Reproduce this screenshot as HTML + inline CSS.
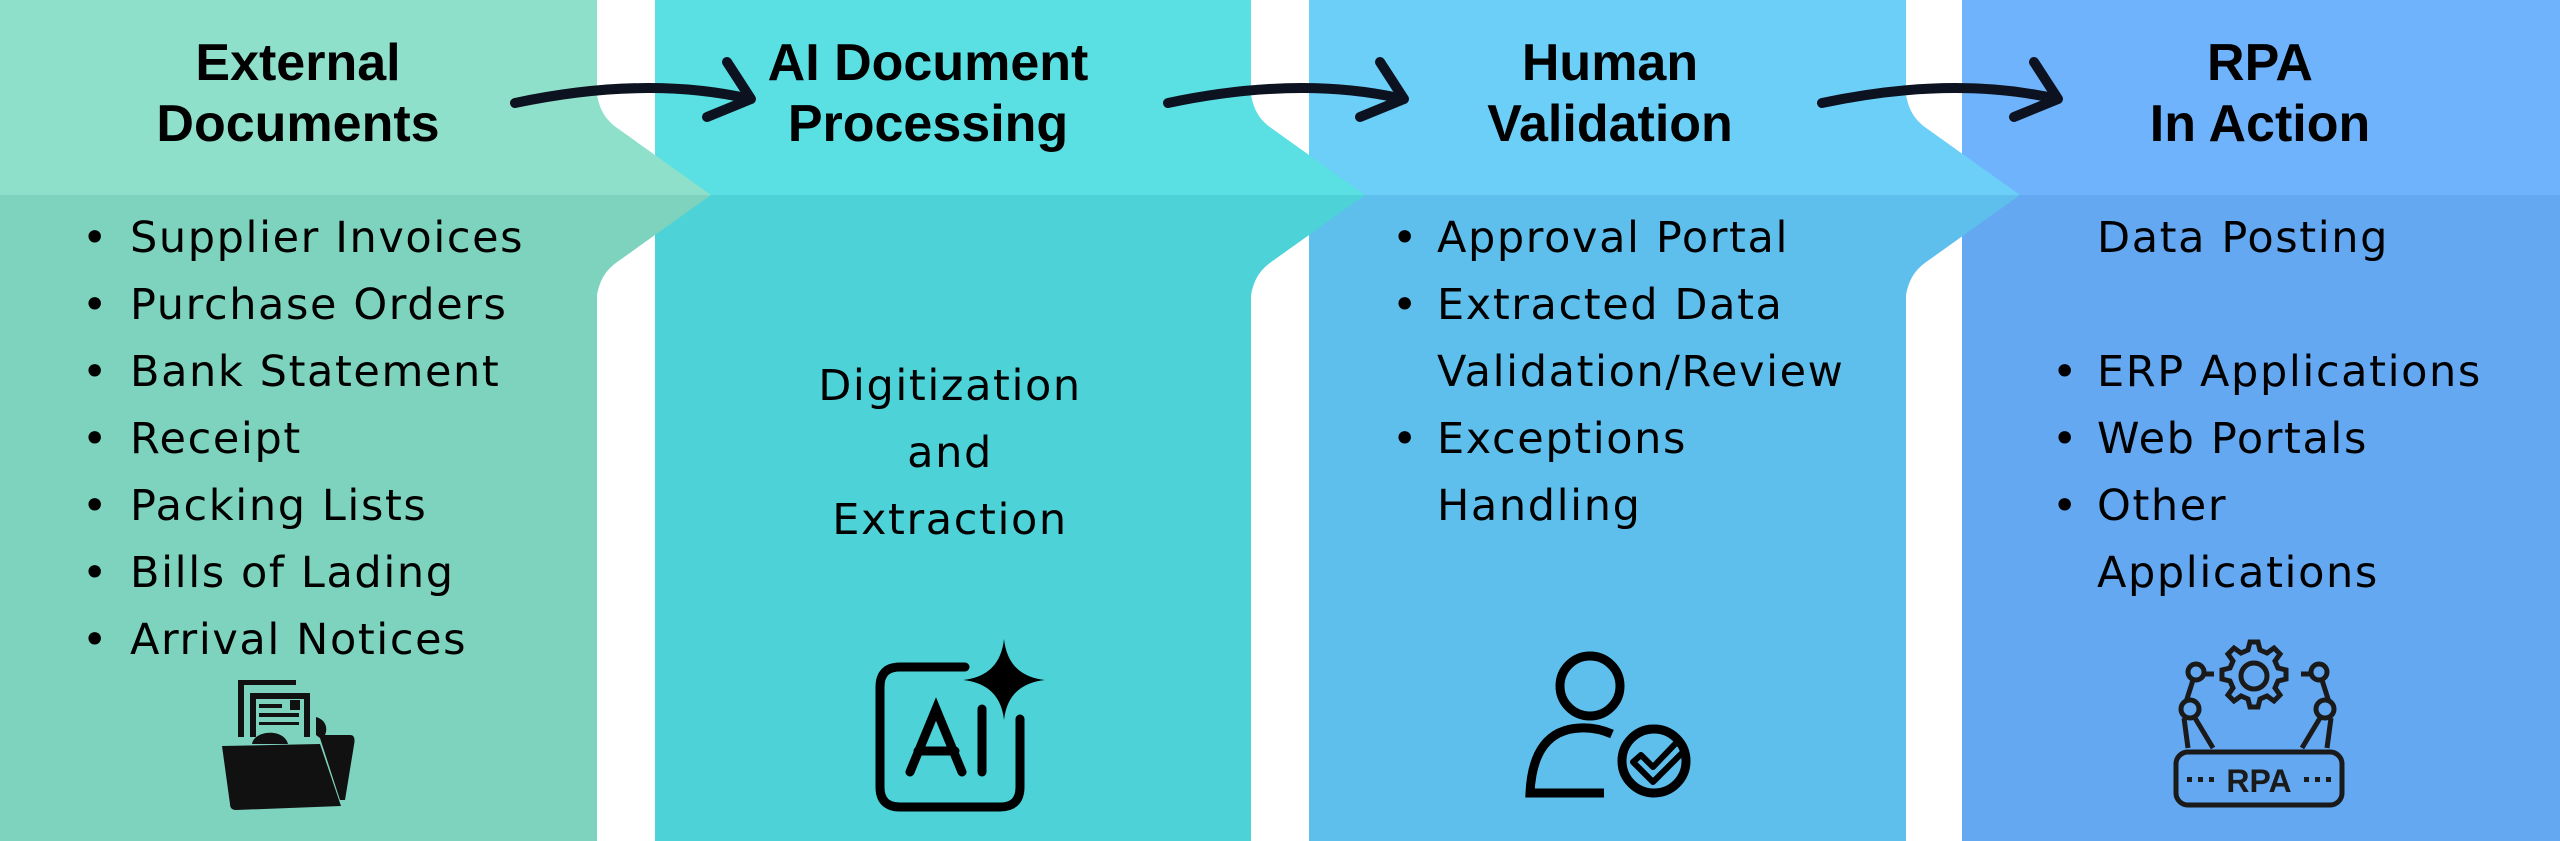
<!DOCTYPE html>
<html><head><meta charset="utf-8"><style>
html,body{margin:0;padding:0;background:#fff;}
svg{display:block}
text{font-family:"DejaVu Sans","Liberation Sans",sans-serif;fill:#000}
.t{font-family:"Liberation Sans",sans-serif;font-weight:bold;font-size:52px;text-anchor:middle}
.b{font-size:43px;letter-spacing:1.6px}
.c{font-size:43px;letter-spacing:1.6px;text-anchor:middle}
</style></head><body>
<svg width="2560" height="841" viewBox="0 0 2560 841" xmlns="http://www.w3.org/2000/svg">
<rect x="0" y="0" width="597" height="195" fill="#8EE0CB"/>
<rect x="0" y="195" width="597" height="646" fill="#7DD3BD"/>
<rect x="655" y="0" width="596" height="195" fill="#5ADFE3"/>
<rect x="655" y="195" width="596" height="646" fill="#4DD2D8"/>
<rect x="1309" y="0" width="597" height="195" fill="#6BCFF8"/>
<rect x="1309" y="195" width="597" height="646" fill="#5FBFEC"/>
<rect x="1962" y="0" width="598" height="195" fill="#6FB3FD"/>
<rect x="1962" y="195" width="598" height="646" fill="#63A8F1"/>
<path d="M597,95 C600,110 605,120 620,130 L711,195 L597,195 Z" fill="#8EE0CB"/>
<path d="M597,295 C600,280 605,270 620,260 L711,195 L597,195 Z" fill="#7DD3BD"/>
<path d="M1251,95 C1254,110 1259,120 1274,130 L1365,195 L1251,195 Z" fill="#5ADFE3"/>
<path d="M1251,295 C1254,280 1259,270 1274,260 L1365,195 L1251,195 Z" fill="#4DD2D8"/>
<path d="M1906,95 C1909,110 1914,120 1929,130 L2020,195 L1906,195 Z" fill="#6BCFF8"/>
<path d="M1906,295 C1909,280 1914,270 1929,260 L2020,195 L1906,195 Z" fill="#5FBFEC"/>
<g fill="none" stroke="#0d1220" stroke-width="10" stroke-linecap="round" stroke-linejoin="round">
<path d="M515,103 C600,85 680,83 750,99"/><path d="M727,62 L751,99 L707,117"/>
<path d="M1168,103 C1253,85 1333,83 1403,99"/><path d="M1380,62 L1404,99 L1360,117"/>
<path d="M1822,103 C1907,85 1987,83 2057,99"/><path d="M2034,62 L2058,99 L2014,117"/>
</g>
<text class="t" x="298" y="80">External</text><text class="t" x="298" y="141">Documents</text>
<text class="t" x="928" y="80">AI Document</text><text class="t" x="928" y="141">Processing</text>
<text class="t" x="1610" y="80">Human</text><text class="t" x="1610" y="141">Validation</text>
<text class="t" x="2260" y="80">RPA</text><text class="t" x="2260" y="141">In Action</text>
<text class="b" x="82" y="252">•</text><text class="b" x="130" y="252">Supplier Invoices</text>
<text class="b" x="82" y="319">•</text><text class="b" x="130" y="319">Purchase Orders</text>
<text class="b" x="82" y="386">•</text><text class="b" x="130" y="386">Bank Statement</text>
<text class="b" x="82" y="453">•</text><text class="b" x="130" y="453">Receipt</text>
<text class="b" x="82" y="520">•</text><text class="b" x="130" y="520">Packing Lists</text>
<text class="b" x="82" y="587">•</text><text class="b" x="130" y="587">Bills of Lading</text>
<text class="b" x="82" y="654">•</text><text class="b" x="130" y="654">Arrival Notices</text>
<text class="c" x="950" y="400">Digitization</text>
<text class="c" x="950" y="467">and</text>
<text class="c" x="950" y="534">Extraction</text>
<text class="b" x="1392" y="252">•</text><text class="b" x="1437" y="252">Approval Portal</text>
<text class="b" x="1392" y="319">•</text><text class="b" x="1437" y="319">Extracted Data</text>
<text class="b" x="1437" y="386">Validation/Review</text>
<text class="b" x="1392" y="453">•</text><text class="b" x="1437" y="453">Exceptions</text>
<text class="b" x="1437" y="520">Handling</text>
<text class="b" x="2097" y="252">Data Posting</text>
<text class="b" x="2052" y="386">•</text><text class="b" x="2097" y="386">ERP Applications</text>
<text class="b" x="2052" y="453">•</text><text class="b" x="2097" y="453">Web Portals</text>
<text class="b" x="2052" y="520">•</text><text class="b" x="2097" y="520">Other</text>
<text class="b" x="2097" y="587">Applications</text>
<g fill="#111">
<path d="M238,737 L238,680 L296,680 L296,685 L244,685 L244,737Z"/>
<path d="M250,737 L250,693 L310,693 L310,737 L304,737 L304,699 L256,699 L256,737Z"/>
<rect x="259" y="704" width="23" height="4"/><rect x="290" y="700" width="10" height="10"/>
<rect x="259" y="713" width="40" height="4"/><rect x="259" y="722" width="40" height="3"/>
<path d="M316,717 C326,720 328,728 325,735 L350,735 C355,735 355,740 354,745 L345,800 L340,800 L320,738 L316,735Z"/>
<path d="M222,746 L320,744 L341,806 L236,810 C232,810 230,808 230,804Z"/>
<path d="M252,744 C254,730 284,728 288,744Z"/>
</g>
<g fill="none" stroke="#000" stroke-width="9" stroke-linecap="round">
<path d="M965,667 L900,667 Q880,667 880,687 L880,787 Q880,807 900,807 L1000,807 Q1020,807 1020,787 L1020,719"/>
<path d="M910,772 L936,709 L962,772"/><path d="M918,751 L955,751"/><path d="M982,709 L982,772"/>
</g>
<path d="M1004,639 Q1008,676 1045,680 Q1008,684 1004,720 Q1000,684 963,680 Q1000,676 1004,639Z" fill="#000"/>
<g fill="none" stroke="#000" stroke-width="9">
<circle cx="1590" cy="686" r="30"/>
<path d="M1612,734 Q1596,727 1580,728 Q1533,730 1530,793 L1604,793"/>
<circle cx="1654" cy="761" r="32"/>
</g>
<path d="M1633,762 L1641,755 L1653,767 L1677,742 L1685,750 L1653,782Z" fill="none" stroke="#000" stroke-width="6" stroke-linejoin="round"/>
<g fill="none" stroke="#1a1a1a" stroke-width="5">
<rect x="2176" y="752" width="166" height="53" rx="12"/>
<circle cx="2254" cy="676" r="13"/>
<path d="M2254,642 l8,0 2,8 7,3 7,-5 6,6 -5,7 3,7 8,2 0,9 -8,2 -3,7 5,7 -6,6 -7,-5 -7,3 -2,8 -8,0 -2,-8 -7,-3 -7,5 -6,-6 5,-7 -3,-7 -8,-2 0,-9 8,-2 3,-7 -5,-7 6,-6 7,5 7,-3Z" transform="translate(-4,0)"/>
<circle cx="2196" cy="672" r="8"/><circle cx="2190" cy="709" r="9"/><path d="M2204,674 h10 M2193,680 L2186,702 M2195,718 L2213,748 M2184,718 L2188,748"/>
<circle cx="2319" cy="672" r="8"/><circle cx="2325" cy="709" r="9"/><path d="M2311,674 h-10 M2322,680 L2329,702 M2320,718 L2302,748 M2331,718 L2327,748"/>
</g>
<g fill="#1a1a1a"><rect x="2187" y="777" width="5" height="5"/><rect x="2198" y="777" width="5" height="5"/><rect x="2209" y="777" width="5" height="5"/><rect x="2304" y="777" width="5" height="5"/><rect x="2315" y="777" width="5" height="5"/><rect x="2326" y="777" width="5" height="5"/></g>
<text x="2259" y="792" text-anchor="middle" style="font-family:'Liberation Sans',sans-serif;font-size:32px;font-weight:bold;fill:#1a1a1a">RPA</text>
</svg>
</body></html>
